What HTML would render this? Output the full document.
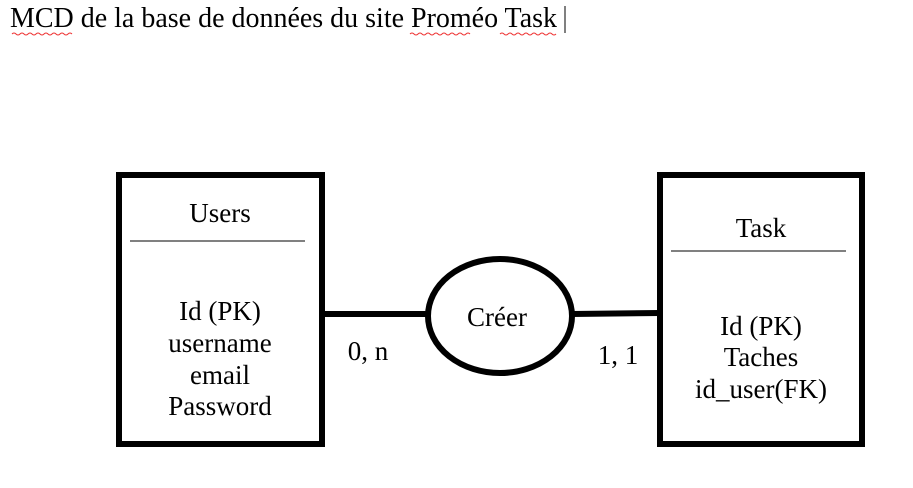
<!DOCTYPE html>
<html><head><style>
body{margin:0;background:#fff;width:913px;height:483px;overflow:hidden}
</style></head><body>
<svg width="913" height="483" xmlns="http://www.w3.org/2000/svg" font-family="Liberation Serif, serif" fill="#000">
<text x="10" y="27" font-size="28" textLength="547" lengthAdjust="spacingAndGlyphs">MCD de la base de données du site Proméo Task</text>
<path d="M12 34 q2 -2 4 0 t4 0 t4 0 t4 0 t4 0 t4 0 t4 0 t4 0 t4 0 t4 0 t4 0 t4 0 t4 0 t4 0 t4 0" stroke="#e33" fill="none" stroke-width="1"/>
<path d="M410 34 q2 -2 4 0 t4 0 t4 0 t4 0 t4 0 t4 0 t4 0 t4 0 t4 0 t4 0 t4 0 t4 0 t4 0 t4 0 t4 0" stroke="#e33" fill="none" stroke-width="1"/>
<path d="M500 34 q2 -2 4 0 t4 0 t4 0 t4 0 t4 0 t4 0 t4 0 t4 0 t4 0 t4 0 t4 0 t4 0 t4 0 t4 0" stroke="#e33" fill="none" stroke-width="1"/>
<line x1="565" y1="6" x2="565" y2="33" stroke="#000" stroke-width="1"/>
<rect x="119" y="175" width="203" height="269" fill="none" stroke="#000" stroke-width="6"/>
<line x1="130" y1="241" x2="305" y2="241" stroke="#000" stroke-width="1"/>
<text x="220" y="222" font-size="27" text-anchor="middle">Users</text>
<text x="220" y="320" font-size="27" text-anchor="middle">Id (PK)</text>
<text x="220" y="352" font-size="27" text-anchor="middle">username</text>
<text x="220" y="384" font-size="27" text-anchor="middle">email</text>
<text x="220" y="415" font-size="27" text-anchor="middle">Password</text>
<line x1="322" y1="314" x2="428" y2="314" stroke="#000" stroke-width="6"/>
<ellipse cx="500" cy="316" rx="72" ry="57" fill="none" stroke="#000" stroke-width="6"/>
<text x="497" y="326" font-size="27" text-anchor="middle">Créer</text>
<line x1="572" y1="314" x2="660" y2="313" stroke="#000" stroke-width="6"/>
<text x="368" y="360" font-size="27" text-anchor="middle">0, n</text>
<text x="618" y="364" font-size="27" text-anchor="middle">1, 1</text>
<rect x="660" y="175" width="202" height="269" fill="none" stroke="#000" stroke-width="6"/>
<line x1="671" y1="251" x2="846" y2="251" stroke="#000" stroke-width="1"/>
<text x="761" y="237" font-size="27" text-anchor="middle">Task</text>
<text x="761" y="335" font-size="27" text-anchor="middle">Id (PK)</text>
<text x="761" y="366" font-size="27" text-anchor="middle">Taches</text>
<text x="761" y="398" font-size="27" text-anchor="middle">id_user(FK)</text>
</svg>
</body></html>
